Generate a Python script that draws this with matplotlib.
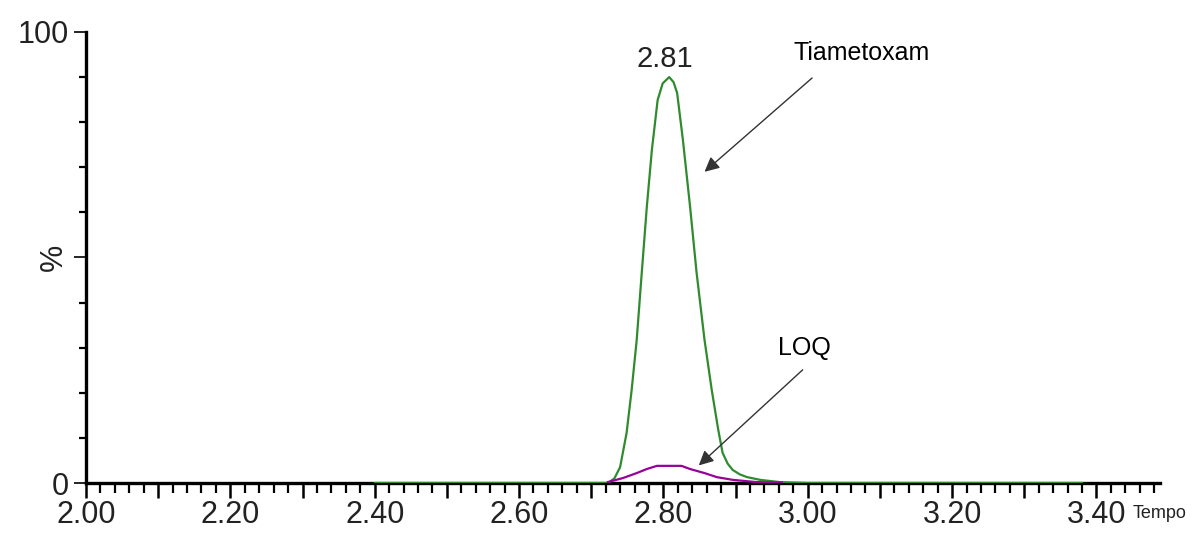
import matplotlib.pyplot as plt
from matplotlib.ticker import FixedLocator, MultipleLocator

plt.rcParams["font.family"] = ["Liberation Sans", "DejaVu Sans"]

# Tiametoxam trace (tempo em min, intensidade em %)
tiam_time = [2.400, 2.723, 2.732, 2.740, 2.749, 2.756, 2.763, 2.770, 2.777,
             2.784, 2.792, 2.799, 2.808, 2.814, 2.819, 2.827, 2.837, 2.846,
             2.857, 2.867, 2.876, 2.882, 2.889, 2.896, 2.906, 2.916, 2.934,
             2.961, 3.000, 3.380]
tiam_int = [0.0, 0.0, 1.0, 3.5, 11.1, 20.6, 31.7, 46.6, 61.2,
            73.8, 84.9, 88.6, 90.0, 88.9, 86.5, 76.1, 61.2, 46.6,
            31.7, 20.6, 11.8, 6.7, 4.3, 2.9, 1.9, 1.3, 0.7,
            0.2, 0.0, 0.0]

# LOQ trace
loq_time = [2.723, 2.744, 2.763, 2.777, 2.791, 2.825, 2.837, 2.857, 2.874,
            2.896, 2.929, 2.964]
loq_int = [0.2, 1.1, 2.2, 3.1, 3.8, 3.8, 3.1, 2.2, 1.3, 0.7, 0.2, 0.1]

apex_time = 2.808
apex_int = 90.0

x_major = [2.0 + 0.1 * i for i in range(15)]
x_labels = [f"{v:.2f}" if i % 2 == 0 else "" for i, v in enumerate(x_major)]
y_major = [0, 50, 100]
y_labels = ["0", "%", "100"]

fig = plt.figure(figsize=(11.93, 5.34), dpi=100)
ax = fig.add_axes([0.0721, 0.0955, 0.9002, 0.8446])

ax.plot(tiam_time, tiam_int, color="#2e8b2e", linewidth=1.6, zorder=3)
ax.plot(loq_time, loq_int, color="#990099", linewidth=1.6, zorder=4)

ax.set_xlim(2.0, 3.488)
ax.set_ylim(0, 100)

for side in ("top", "right"):
    ax.spines[side].set_visible(False)
for side in ("left", "bottom"):
    ax.spines[side].set_linewidth(2.4)
    ax.spines[side].set_color("black")

ax.xaxis.set_major_locator(FixedLocator(x_major))
ax.set_xticklabels(x_labels)
ax.xaxis.set_minor_locator(MultipleLocator(0.02))
ax.yaxis.set_major_locator(FixedLocator(y_major))
ax.set_yticklabels(y_labels)
ax.yaxis.set_minor_locator(MultipleLocator(10))

ax.tick_params(axis="x", which="major", direction="out", length=11, width=1.8,
               labelsize=22, pad=1, colors="black", labelcolor="#222222")
ax.tick_params(axis="x", which="minor", direction="out", length=7, width=1.6,
               colors="black")
ax.tick_params(axis="y", which="major", direction="out", length=9, width=1.2,
               labelsize=22, pad=3, colors="black", labelcolor="#222222")
ax.tick_params(axis="y", which="minor", direction="out", length=5, width=1.6,
               colors="black")
for lbl in ax.get_yticklabels():
    if lbl.get_text() == "%":
        lbl.set_rotation(90)
        lbl.set_va("center")

# retention time above the peak
ax.annotate(f"{apex_time:.2f}", xy=(apex_time, apex_int), xytext=(-3, 3),
            textcoords="offset points", ha="center", va="bottom",
            fontsize=21, color="#222222")

arrow = dict(arrowstyle="-|>", color="#333333", lw=1.0, mutation_scale=22,
             shrinkA=0, shrinkB=0)
ax.annotate("", xy=(2.857, 69.0), xytext=(3.006, 89.8), arrowprops=arrow)
ax.text(3.075, 95.3, "Tiametoxam", ha="center", va="center", fontsize=18)

ax.annotate("", xy=(2.849, 3.9), xytext=(2.993, 25.1), arrowprops=arrow)
ax.text(2.996, 29.9, "LOQ", ha="center", va="center", fontsize=18)

fig.text(1133 / 1193, 1 - 514 / 534, "Tempo", ha="left", va="center",
         fontsize=13, color="#222222")

fig.savefig("out.png", dpi=100)
